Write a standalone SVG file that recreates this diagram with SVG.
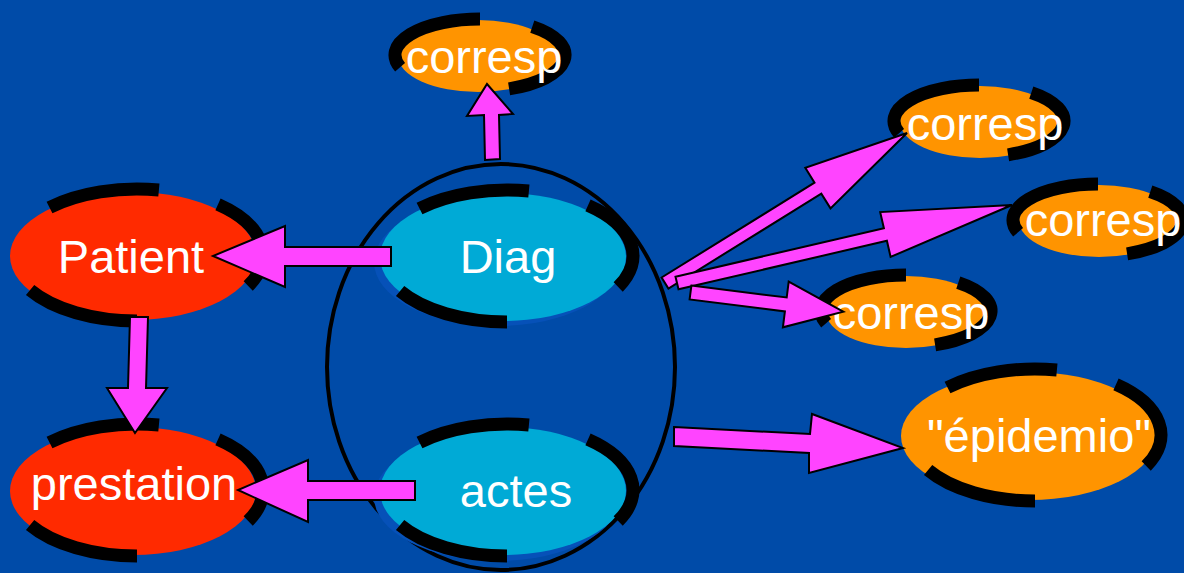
<svg xmlns="http://www.w3.org/2000/svg" width="1184" height="573" viewBox="0 0 1184 573">
<style>
.arc{fill:none;stroke:#000;stroke-width:13;stroke-linecap:butt}
.red{fill:#FF2A00}
.cyan{fill:#00AAD6}
.orange{fill:#FF9400}
.shadow{fill:#0651B8}
.lbl{font-family:"Liberation Sans",Arial,sans-serif;font-size:47px;fill:#fff;text-anchor:middle}
.arrow{fill:#FF44FF;stroke:#000;stroke-width:2;stroke-linejoin:miter}
</style>
<rect width="1184" height="573" fill="#004BA8"/>
<g id="group-oval">
<ellipse cx="501" cy="367" rx="174" ry="203" fill="none" stroke="#000" stroke-width="4"/>
</g>
<g id="node-patient">
<ellipse class="red" cx="133" cy="256" rx="123" ry="64"/>
<path class="arc" d="M49.5 207.5A126 66 0 0 1 158.9 190M218 204.4A126 66 0 0 1 248.2 286M137 321A126 66 0 0 1 30.1 290"/>
<text class="lbl" x="131" y="273">Patient</text>
</g>
<g id="node-prestation">
<ellipse class="red" cx="133" cy="491" rx="123" ry="64"/>
<path class="arc" d="M49.5 442.5A126 66 0 0 1 158.9 425M218 439.4A126 66 0 0 1 248.2 521M137 556A126 66 0 0 1 30.1 525"/>
<text class="lbl" x="134" y="500">prestation</text>
</g>
<g id="node-diag">
<ellipse class="shadow" cx="497" cy="262" rx="123" ry="64"/>
<ellipse class="cyan" cx="503" cy="257" rx="123" ry="64"/>
<path class="arc" d="M419.5 208.5A126 66 0 0 1 528.9 191M588 205.4A126 66 0 0 1 618.2 287M507 322A126 66 0 0 1 400.1 291"/>
<text class="lbl" x="508" y="273">Diag</text>
</g>
<g id="node-actes">
<ellipse class="shadow" cx="497" cy="497" rx="123" ry="64"/>
<ellipse class="cyan" cx="503" cy="491" rx="123" ry="64"/>
<path class="arc" d="M419.5 442.5A126 66 0 0 1 528.9 425M588 439.4A126 66 0 0 1 618.2 521M507 556A126 66 0 0 1 400.1 525"/>
<text class="lbl" x="516" y="507">actes</text>
</g>
<g id="node-epidemio">
<ellipse class="orange" cx="1029" cy="436" rx="128" ry="64"/>
<path class="arc" d="M947.5 387.5A126 66 0 0 1 1056.9 370M1116 384.4A126 66 0 0 1 1146.2 466M1035 501A126 66 0 0 1 928.1 470"/>
<text class="lbl" x="1039" y="452">"épidemio"</text>
</g>
<g id="node-corresp-top">
<ellipse class="orange" cx="478" cy="56" rx="80" ry="36"/>
<path class="arc" d="M400.1 67.3A85 36 0 0 1 480 19M532.3 26.6A85 36 0 0 1 509.1 88.8"/>
<text class="lbl" x="484" y="73">corresp</text>
</g>
<g id="node-corresp-1">
<ellipse class="orange" cx="980" cy="122" rx="80" ry="36"/>
<path class="arc" d="M899.1 133.3A85 36 0 0 1 979 85M1031.3 92.6A85 36 0 0 1 1008.1 154.8"/>
<text class="lbl" x="985" y="140">corresp</text>
</g>
<g id="node-corresp-2">
<ellipse class="orange" cx="1099" cy="221" rx="80" ry="36"/>
<path class="arc" d="M1018.1 232.3A85 36 0 0 1 1098 184M1150.3 191.6A85 36 0 0 1 1127.1 253.8"/>
<text class="lbl" x="1103" y="236">corresp</text>
</g>
<g id="node-corresp-3">
<ellipse class="orange" cx="906" cy="312" rx="80" ry="36"/>
<path class="arc" d="M826.1 323.3A85 36 0 0 1 906 275M958.3 282.6A85 36 0 0 1 935.1 344.8"/>
<text class="lbl" x="911" y="329">corresp</text>
</g>
<g id="connectors">
<polygon class="arrow" points="391,247 285,247 285,226 213,256 285,287 285,266 391,266"/>
<polygon class="arrow" points="130,317 148,317 146,388 167,388 135,433 107,388 128,388"/>
<polygon class="arrow" points="415,481 308,481 308,460 238,490 308,522 308,500 415,500"/>
<polygon class="arrow" points="485,160 500,159 499,115 513,114 487,84 467,116 484,115"/>
<polygon class="arrow" points="661.6,277.5 814.5,182.7 805.3,167.8 907,133 830.5,208.4 821.3,193.7 668.4,288.5"/>
<polygon class="arrow" points="675.5,276.7 883.9,228.2 880.2,212.1 1012,205 890.6,256.9 886.9,240.8 678.5,289.3"/>
<polygon class="arrow" points="691.4,285.6 786.7,297.5 788.7,281.6 843.3,311.7 782.9,327.3 784.9,311.4 689.6,299.4"/>
<polygon class="arrow" points="674,427 810,434 812,414 903,448 809,473 809,453 674,446"/>
</g>
</svg>
